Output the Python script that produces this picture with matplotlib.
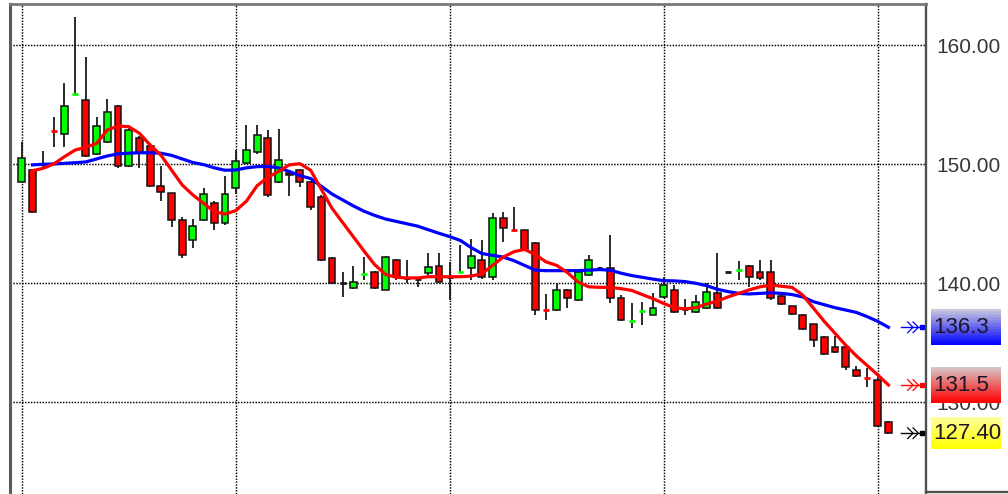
import matplotlib
matplotlib.use('Agg')
import matplotlib.pyplot as plt
from matplotlib.patches import Rectangle
from matplotlib.lines import Line2D
from matplotlib.ticker import FormatStrFormatter
from matplotlib.transforms import blended_transform_factory

plt.rcParams['font.family'] = ['Liberation Sans', 'DejaVu Sans']

# 일봉 시가/고가/저가/종가 (82개)
opens = [148.5, 149.5, 150.0, 152.82, 152.52, 155.9, 155.4, 150.87, 151.85, 154.9,
         149.86, 152.2, 151.54, 148.18, 147.56, 145.32, 143.64, 145.32, 146.77, 145.04,
         147.98, 150.13, 151.06, 152.18, 148.54, 149.3, 149.52, 148.54, 147.23, 142.1,
         140.0, 139.58, 140.78, 140.92, 139.44, 141.96, 140.45, 140.35, 140.84, 141.45,
         140.55, 140.97, 141.26, 141.96, 140.55, 145.46, 144.48, 144.48, 143.36, 137.76,
         137.76, 139.44, 138.6, 140.7, 141.25, 141.26, 138.74, 136.86, 137.7, 137.34,
         138.87, 139.44, 137.85, 137.61, 137.9, 139.16, 140.95, 141.12, 141.45, 140.92,
         140.95, 138.93, 138.09, 137.34, 136.58, 135.51, 134.67, 134.67, 132.71, 132.07,
         131.87, 128.37]
highs = [151.9, 149.6, 151.1, 153.95, 156.8, 162.4, 159.0, 153.95, 155.46, 154.95,
         153.3, 152.4, 151.75, 149.86, 147.6, 145.6, 145.38, 147.98, 146.9, 149.02,
         151.2, 153.3, 153.3, 152.88, 152.94, 149.4, 149.6, 148.6, 147.42, 142.2,
         140.97, 141.45, 142.24, 141.0, 142.3, 142.0, 141.96, 140.5, 142.52, 142.52,
         141.81, 143.22, 143.7, 143.64, 145.88, 146.02, 146.44, 144.5, 143.5, 139.1,
         140.0, 139.5, 141.0, 142.38, 141.4, 144.06, 139.0, 138.32, 138.45, 139.16,
         140.55, 139.86, 138.7, 139.0, 140.0, 142.52, 140.95, 141.9, 141.5, 141.96,
         141.96, 139.0, 138.1, 137.4, 136.6, 135.6, 135.57, 134.7, 133.05, 132.86,
         132.15, 128.4]
lows = [148.5, 145.9, 149.8, 151.48, 151.48, 155.8, 150.6, 150.8, 151.8, 149.66,
        149.8, 149.7, 148.1, 146.94, 144.76, 142.1, 142.94, 145.2, 144.48, 144.9,
        147.5, 150.0, 150.9, 147.23, 148.4, 147.3, 148.12, 146.16, 141.9, 139.9,
        138.87, 139.5, 140.28, 139.5, 139.4, 140.3, 140.0, 139.7, 140.7, 140.0,
        138.6, 140.9, 140.28, 140.4, 140.28, 143.5, 144.4, 142.7, 137.34, 136.92,
        137.7, 137.9, 138.5, 140.6, 141.0, 138.37, 136.8, 136.22, 136.5, 137.3,
        138.8, 137.48, 137.35, 137.5, 137.8, 137.8, 140.95, 140.28, 139.72, 140.3,
        138.6, 138.2, 137.3, 136.1, 134.67, 134.0, 134.1, 132.71, 132.1, 131.31,
        127.9, 127.35]
closes = [150.5, 146.0, 150.0, 152.81, 154.9, 155.91, 150.7, 153.22, 154.42, 149.86,
          152.88, 151.0, 148.18, 147.7, 145.32, 142.38, 144.82, 147.5, 145.04, 147.5,
          150.3, 151.2, 152.46, 147.42, 150.36, 149.1, 148.54, 146.44, 141.96, 140.0,
          140.0, 140.08, 140.79, 139.58, 142.24, 140.55, 140.45, 140.35, 141.34, 140.13,
          140.55, 140.98, 142.29, 140.55, 145.46, 144.62, 144.47, 142.8, 137.76, 137.75,
          139.44, 138.74, 140.97, 141.96, 141.25, 138.74, 136.92, 136.87, 137.71, 137.9,
          139.86, 137.61, 137.85, 138.45, 139.3, 137.9, 140.95, 141.13, 140.55, 140.42,
          138.74, 138.26, 137.42, 136.16, 135.24, 134.03, 134.2, 132.99, 132.21, 132.06,
          128.01, 127.4]

# 이동평균선 (두번째 봉부터)
fast_ma = [149.46, 149.66, 150.03, 150.64, 151.2, 151.43, 151.76, 152.88, 153.22, 153.16,
           152.61, 151.62, 150.78, 149.52, 148.26, 147.42, 146.72, 146.02, 145.82, 146.1,
           146.9, 148.2, 148.9, 149.4, 149.95, 150.05, 149.5, 147.9, 146.3, 145.1,
           143.9, 142.7, 141.55, 140.75, 140.5, 140.45, 140.45, 140.55, 140.55, 140.55,
           140.55, 140.6, 140.8, 141.5, 142.2, 142.65, 142.85, 142.4, 141.8, 141.5,
           140.9, 140.1, 139.7, 139.66, 139.65, 139.55, 139.4, 139.05, 138.7, 138.3,
           137.95, 137.85, 137.95, 138.25, 138.5, 138.85, 139.15, 139.45, 139.7, 139.85,
           139.75, 139.65, 139.0, 137.9, 136.8, 135.8, 134.8, 133.9, 133.1, 132.3,
           131.45]
slow_ma = [149.95, 150.0, 150.03, 150.08, 150.13, 150.2, 150.45, 150.7, 150.87, 150.93,
           150.97, 150.97, 150.93, 150.75, 150.45, 150.15, 149.97, 149.7, 149.5, 149.52,
           149.7, 149.8, 149.82, 149.7, 149.4, 149.05, 148.8, 148.15, 147.5, 147.0,
           146.5, 146.05, 145.7, 145.4, 145.2, 145.0, 144.8, 144.5, 144.2, 143.92,
           143.6, 143.0, 142.5, 142.35, 142.2, 141.9, 141.5, 141.1, 141.06, 141.06,
           141.06, 141.06, 141.1, 141.15, 141.1, 140.85, 140.65, 140.5, 140.35, 140.22,
           140.2, 140.14, 140.0, 139.8, 139.5, 139.3, 139.15, 139.1, 139.15, 139.2,
           139.15, 139.05, 138.85, 138.45, 138.2, 137.95, 137.75, 137.55, 137.2, 136.8,
           136.3]

price_ticks = [130, 140, 150, 160]
grid_bars = [0, 20, 40, 60, 80]
tag_texts = ['136.3', '131.5', '127.40']

fig = plt.figure(figsize=(10.08, 4.94), dpi=100)
ax = fig.add_axes([10 / 1008, 0, 916 / 1008, 490 / 494])
ax.set_xlim(-1.093, 84.51)
ax.set_ylim(122.29, 163.47)

# 격자 (점선)
ax.set_xticks(grid_bars)
ax.set_yticks(price_ticks)
ax.set_axisbelow(True)
ax.grid(True, color='#000000', linestyle=(0, (1, 1)), linewidth=1.05)
ax.tick_params(axis='x', bottom=False, labelbottom=False)
ax.yaxis.tick_right()
ax.yaxis.set_major_formatter(FormatStrFormatter('%.2f'))
ax.tick_params(axis='y', length=0, pad=7.6, labelsize=15, labelcolor='#3a3535')

ax.spines['bottom'].set_visible(False)
ax.spines['left'].set_color('#5a5a5a')
ax.spines['left'].set_linewidth(2.2)
ax.spines['top'].set_color('#787878')
ax.spines['top'].set_linewidth(2.0)
ax.spines['right'].set_color('#505050')
ax.spines['right'].set_linewidth(1.7)

# 캔들
for i, (o, h, l, c) in enumerate(zip(opens, highs, lows, closes)):
    if h > l:
        ax.vlines(i, l, h, color='#1a1a1a', lw=1.3, zorder=2)
    if abs(c - o) < 0.05:
        col = '#00ff00' if c > o else ('#ff0000' if c < o else '#1a1a1a')
        ax.hlines(o, i - 0.27, i + 0.27, color=col, lw=2.0, zorder=3)
    else:
        col = '#00ff00' if c > o else '#ff0000'
        ax.add_patch(Rectangle((i - 0.32, min(o, c)), 0.64, abs(c - o),
                               facecolor=col, edgecolor='#111111', lw=1.1, zorder=3))

bars = range(1, len(closes))
ax.plot(bars, slow_ma, color='#0000ff', lw=2.3, zorder=4)
ax.plot(bars, fast_ma, color='#ff0000', lw=2.3, zorder=5)

# 오른쪽 값 표시
bt = blended_transform_factory(fig.transFigure, ax.transData)
tags = [(slow_ma[-1], '#0000ff', (0.78, 0.78, 0.86), (0.0, 0.0, 1.0), 3.0),
        (fast_ma[-1], '#ff0000', (0.84, 0.78, 0.78), (1.0, 0.0, 0.0), 3.05),
        (closes[-1], '#000000', (1.0, 1.0, 0.6), (1.0, 1.0, 0.0), 2.65)]

for (val, acol, top, bot, hgt), txt in zip(tags, tag_texts):
    # 화살표
    ax.plot([82.2, 84.3], [val, val], color=acol, lw=1.0, zorder=6, clip_on=False)
    for x0 in [82.8, 83.3]:
        ax.plot([x0, x0 + 0.5, x0], [val + 0.45, val, val - 0.45], color=acol,
                lw=0.9, zorder=6, clip_on=False)
    ax.plot([84.15], [val], marker='s', ms=3.4, color=acol, zorder=6, clip_on=False)
    # 그라데이션 박스
    n = 24
    for k in range(n):
        t = k / (n - 1)
        col = tuple(top[j] + (bot[j] - top[j]) * t for j in range(3))
        y0 = val + hgt / 2 - hgt * (k + 1) / n
        ax.add_patch(Rectangle((931 / 1008, y0), 70 / 1008, hgt / n + 0.01, transform=bt,
                               facecolor=col, edgecolor='none', zorder=10, clip_on=False))
    ax.text(933.5 / 1008, val, txt, transform=bt, ha='left', va='center',
            fontsize=16, color='#1e1428', zorder=11, clip_on=False)

fig.add_artist(Line2D([926 / 1008, 1.0], [1 - 491.7 / 494] * 2,
                      color='#505050', lw=1.7))

plt.savefig('out.png', dpi=100)
